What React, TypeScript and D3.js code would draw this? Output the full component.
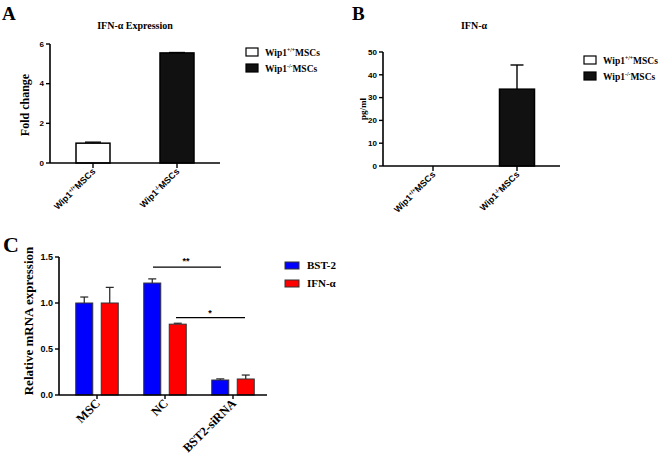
import React from "react";
import * as d3 from "d3";

const groupsAB = ["Wip1+/+MSCs", "Wip1-/-MSCs"];
const aValues = [1.0, 5.55];
const aErrors = [0.05, 0.02];
const aTicks = [0, 2, 4, 6];
const bValues = [0, 33.7];
const bErrors = [0, 10.6];
const bTicks = [0, 10, 20, 30, 40, 50];
const cCategories = ["MSC", "NC", "BST2-siRNA"];
const cSeries = ["BST-2", "IFN-α"];
const bst2Values = [1.0, 1.217, 0.163];
const bst2Errors = [0.065, 0.045, 0.012];
const ifnValues = [1.0, 0.77, 0.174];
const ifnErrors = [0.17, 0.01, 0.043];
const cTicks = [0, 0.5, 1.0, 1.5];
const sigLabels = ["**", "*"];

const SANS = "'Liberation Sans', Arial, sans-serif";
const SERIF = "'Liberation Serif', 'Times New Roman', serif";

function WipLabel({ name, fontSize }: { name: string; fontSize: number }) {
  const sup = name.includes("+/+") ? "+/+" : "-/-";
  return (
    <>
      <tspan>Wip1</tspan>
      <tspan fontSize={fontSize * 0.6} dy={-fontSize * 0.35}>{sup}</tspan>
      <tspan dy={fontSize * 0.35}>MSCs</tspan>
    </>
  );
}

function YAxis({ y, x, ticks, fmt, font, size }: any) {
  const [r0, r1] = y.range();
  return (
    <g>
      <line x1={x} x2={x} y1={r0} y2={r1} stroke="#000" strokeWidth={1.6} />
      {ticks.map((t: number) => (
        <g key={t}>
          <line x1={x - 4} x2={x} y1={y(t)} y2={y(t)} stroke="#000" strokeWidth={1.4} />
          <text x={x - 6} y={y(t)} dy="0.35em" textAnchor="end" fontFamily={font} fontWeight="bold" fontSize={size}>
            {fmt(t)}
          </text>
        </g>
      ))}
    </g>
  );
}

export default function App() {
  // Panel A
  const yA = d3.scaleLinear().domain([0, 6]).range([163, 44]);
  const xA = d3.scalePoint<string>().domain(groupsAB).range([93, 177]);
  const bwA = 34;
  // Panel B
  const yB = d3.scaleLinear().domain([0, 50]).range([166, 52]);
  const xB = d3.scalePoint<string>().domain(groupsAB).range([433, 517]);
  const bwB = 35;
  // Panel C
  const yC = d3.scaleLinear().domain([0, 1.5]).range([395, 257]);
  const xC = d3.scalePoint<string>().domain(cCategories).range([97, 233]);
  const xSub = d3.scalePoint<string>().domain(cSeries).range([-12.75, 12.75]);
  const bwC = 17;
  const cColors = ["#0000ff", "#ff0000"];
  const cVals = [bst2Values, ifnValues];
  const cErrs = [bst2Errors, ifnErrors];

  const abFills = ["#fff", "#111"];

  const renderAB = (
    x: any,
    y: any,
    vals: number[],
    errs: number[],
    bw: number,
    axisX: number,
    axisEnd: number,
    cap: number
  ) => (
    <g>
      {groupsAB.map((g, i) => {
        const cx = x(g)!;
        if (vals[i] <= 0) return null;
        return (
          <g key={g}>
            <line x1={cx} x2={cx} y1={y(vals[i])} y2={y(vals[i] + errs[i])} stroke="#000" strokeWidth={1.4} />
            <line x1={cx - cap / 2} x2={cx + cap / 2} y1={y(vals[i] + errs[i])} y2={y(vals[i] + errs[i])} stroke="#000" strokeWidth={1.4} />
            <rect x={cx - bw / 2} y={y(vals[i])} width={bw} height={y(0) - y(vals[i])} fill={abFills[i]} stroke="#000" strokeWidth={1.5} />
          </g>
        );
      })}
      <line x1={axisX} x2={axisEnd} y1={y(0)} y2={y(0)} stroke="#000" strokeWidth={1.6} />
      {groupsAB.map((g) => (
        <g key={g}>
          <line x1={x(g)} x2={x(g)} y1={y(0)} y2={y(0) + 5} stroke="#000" strokeWidth={1.4} />
          <text
            transform={`translate(${x(g)! + 3},${y(0) + 9}) rotate(-45)`}
            textAnchor="end"
            fontFamily={SANS}
            fontWeight="bold"
            fontSize={9}
          >
            <WipLabel name={g} fontSize={9} />
          </text>
        </g>
      ))}
    </g>
  );

  const legendAB = (bx: number, by: number, gap: number) => (
    <g>
      {groupsAB.map((g, i) => (
        <g key={g}>
          <rect x={bx} y={by + i * gap} width={12} height={8} fill={abFills[i]} stroke="#000" strokeWidth={1.2} />
          <text x={bx + 19} y={by + i * gap + 7.5} fontFamily={SERIF} fontWeight="bold" fontSize={9.5}>
            <WipLabel name={g} fontSize={9.5} />
          </text>
        </g>
      ))}
    </g>
  );

  return (
    <svg width={659} height={454} style={{ position: "absolute", left: 0, top: 0, background: "#fff" }}>
      <rect width={659} height={454} fill="#fff" />
      {/* Panel A */}
      <text x={2} y={20} fontFamily={SERIF} fontWeight="bold" fontSize={19}>A</text>
      <text x={135} y={29} textAnchor="middle" fontFamily={SERIF} fontWeight="bold" fontSize={10}>IFN-α Expression</text>
      <text transform="translate(29,105) rotate(-90)" textAnchor="middle" fontFamily={SERIF} fontWeight="bold" fontSize={12}>
        Fold  change
      </text>
      {renderAB(xA, yA, aValues, aErrors, bwA, 50, 220, 16)}
      <YAxis y={yA} x={50} ticks={aTicks} fmt={d3.format("d")} font={SANS} size={8} />
      {legendAB(246, 48, 16)}

      {/* Panel B */}
      <text x={352} y={20} fontFamily={SERIF} fontWeight="bold" fontSize={19}>B</text>
      <text x={474} y={29} textAnchor="middle" fontFamily={SERIF} fontWeight="bold" fontSize={10}>IFN-α</text>
      <text transform="translate(366,109) rotate(-90)" textAnchor="middle" fontFamily={SERIF} fontWeight="bold" fontSize={9}>
        pg/ml
      </text>
      {renderAB(xB, yB, bValues, bErrors, bwB, 383, 560, 13)}
      <YAxis y={yB} x={383} ticks={bTicks} fmt={d3.format("d")} font={SANS} size={8} />
      {legendAB(584, 56, 16)}

      {/* Panel C */}
      <text x={3} y={252} fontFamily={SERIF} fontWeight="bold" fontSize={22}>C</text>
      <text transform="translate(33,321) rotate(-90)" textAnchor="middle" fontFamily={SERIF} fontWeight="bold" fontSize={13}>
        Relative mRNA expression
      </text>
      {cCategories.map((c, ci) => (
        <g key={c}>
          {cSeries.map((s, si) => {
            const cx = xC(c)! + xSub(s)!;
            const v = cVals[si][ci];
            const e = cErrs[si][ci];
            return (
              <g key={s}>
                <line x1={cx} x2={cx} y1={yC(v)} y2={yC(v + e)} stroke="#222" strokeWidth={1.2} />
                <line x1={cx - 4} x2={cx + 4} y1={yC(v + e)} y2={yC(v + e)} stroke="#222" strokeWidth={1.2} />
                <rect x={cx - bwC / 2} y={yC(v)} width={bwC} height={yC(0) - yC(v)} fill={cColors[si]} stroke="#333" strokeWidth={1} />
              </g>
            );
          })}
        </g>
      ))}
      <line x1={59} x2={267} y1={yC(0)} y2={yC(0)} stroke="#000" strokeWidth={1.6} />
      {cCategories.map((c) => (
        <g key={c}>
          <line x1={xC(c)} x2={xC(c)} y1={yC(0)} y2={yC(0) + 4} stroke="#000" strokeWidth={1.4} />
          <text
            transform={`translate(${xC(c)! + 4},${yC(0) + 9}) rotate(-45)`}
            textAnchor="end"
            fontFamily={SERIF}
            fontWeight="bold"
            fontSize={12.5}
          >
            {c}
          </text>
        </g>
      ))}
      <YAxis y={yC} x={59} ticks={cTicks} fmt={d3.format(".1f")} font={SANS} size={9} />
      {/* significance */}
      <line x1={xC("NC")! - 12} x2={xC("BST2-siRNA")! - 12} y1={yC(1.39)} y2={yC(1.39)} stroke="#000" strokeWidth={1.3} />
      <text x={(xC("NC")! + xC("BST2-siRNA")!) / 2 - 13} y={yC(1.39) - 3} textAnchor="middle" fontFamily={SANS} fontWeight="bold" fontSize={9}>
        {sigLabels[0]}
      </text>
      <line x1={xC("NC")! + 11} x2={xC("BST2-siRNA")! + 12} y1={yC(0.84)} y2={yC(0.84)} stroke="#000" strokeWidth={1.3} />
      <text x={(xC("NC")! + xC("BST2-siRNA")!) / 2 + 11} y={yC(0.84) - 2} textAnchor="middle" fontFamily={SANS} fontWeight="bold" fontSize={9}>
        {sigLabels[1]}
      </text>
      {cSeries.map((s, i) => (
        <g key={s}>
          <rect x={285} y={262 + i * 18} width={14} height={7} fill={cColors[i]} stroke="#333" strokeWidth={1} />
          <text x={307} y={269 + i * 18} fontFamily={SERIF} fontWeight="bold" fontSize={11}>
            {s}
          </text>
        </g>
      ))}
    </svg>
  );
}
